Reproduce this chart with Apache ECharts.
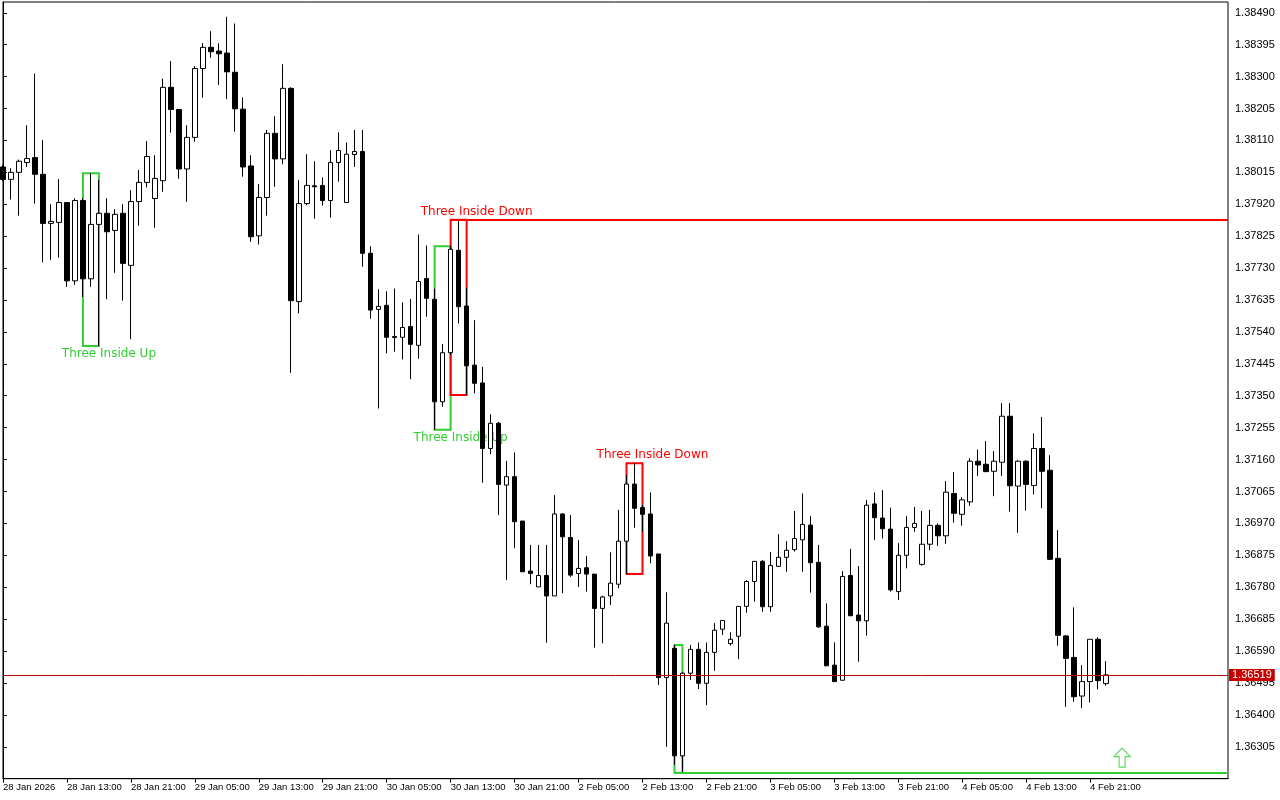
<!DOCTYPE html>
<html>
<head>
<meta charset="utf-8">
<style>
  html, body { margin: 0; padding: 0; background: #fff; }
  #chart { width: 1280px; height: 800px; }
</style>
<script src="https://cdn.jsdelivr.net/npm/echarts@6/dist/echarts.min.js"></script>
</head>
<body>
<div id="chart"></div>
<script>
// H1 bars, 28 Jan - 4 Feb 2026 (one label every 8 bars)
const xTickLabels = ['28 Jan 2026', '28 Jan 13:00', '28 Jan 21:00', '29 Jan 05:00', '29 Jan 13:00', '29 Jan 21:00',
  '30 Jan 05:00', '30 Jan 13:00', '30 Jan 21:00', '2 Feb 05:00', '2 Feb 13:00', '2 Feb 21:00',
  '3 Feb 05:00', '3 Feb 13:00', '3 Feb 21:00', '4 Feb 05:00', '4 Feb 13:00', '4 Feb 21:00'];

const yTicks = [1.36305, 1.36400, 1.36495, 1.36590, 1.36685, 1.36780, 1.36875, 1.36970, 1.37065, 1.37160,
  1.37255, 1.37350, 1.37445, 1.37540, 1.37635, 1.37730, 1.37825, 1.37920, 1.38015, 1.38110,
  1.38205, 1.38300, 1.38395, 1.38490];

const opens = [
  1.38031, 1.37994, 1.38015, 1.38044, 1.38059, 1.38009, 1.37863, 1.37866, 1.37925, 1.37692,
  1.37931, 1.37698, 1.37860, 1.37893, 1.37842, 1.37893, 1.37738, 1.37928, 1.37985, 1.37937,
  1.37990, 1.38268, 1.38202, 1.38025, 1.38119, 1.38324, 1.38387, 1.38376, 1.38370, 1.38313,
  1.38203, 1.38034, 1.37826, 1.37940, 1.38131, 1.38055, 1.38265, 1.37630, 1.37922, 1.37975,
  1.37976, 1.37931, 1.38044, 1.37925, 1.38068, 1.38077, 1.37774, 1.37607, 1.37619, 1.37526,
  1.37524, 1.37556, 1.37500, 1.37699, 1.37637, 1.37332, 1.37478, 1.37783, 1.37617, 1.37441,
  1.37388, 1.37193, 1.37268, 1.37084, 1.37109, 1.36977, 1.36828, 1.36781, 1.36815, 1.36754,
  1.36998, 1.36928, 1.36821, 1.36838, 1.36819, 1.36717, 1.36754, 1.36789, 1.36917, 1.37087,
  1.37017, 1.36998, 1.36879, 1.36511, 1.36598, 1.36278, 1.36524, 1.36595, 1.36494, 1.36586,
  1.36655, 1.36612, 1.36634, 1.36723, 1.36797, 1.36857, 1.36722, 1.36842, 1.36869, 1.36892,
  1.36921, 1.36965, 1.36854, 1.36664, 1.36548, 1.36503, 1.36815, 1.36697, 1.36680, 1.37028,
  1.36986, 1.36953, 1.36767, 1.36875, 1.36958, 1.36848, 1.36908, 1.36964, 1.36933, 1.37059,
  1.36997, 1.37034, 1.37155, 1.37146, 1.37125, 1.37152, 1.37289, 1.37081, 1.37155, 1.37083,
  1.37193, 1.37128, 1.36866, 1.36635, 1.36571, 1.36456, 1.36499, 1.36625, 1.36493
];
const closes = [
  1.37994, 1.38015, 1.38048, 1.38056, 1.38009, 1.37863, 1.37869, 1.37925, 1.37692, 1.37931,
  1.37698, 1.37860, 1.37893, 1.37838, 1.37890, 1.37744, 1.37928, 1.37985, 1.38062, 1.37997,
  1.38268, 1.38202, 1.38025, 1.38119, 1.38324, 1.38387, 1.38374, 1.38368, 1.38314, 1.38204,
  1.38031, 1.37823, 1.37940, 1.38131, 1.38055, 1.38265, 1.37633, 1.37922, 1.37976, 1.37972,
  1.37931, 1.38044, 1.38080, 1.38069, 1.38077, 1.37774, 1.37605, 1.37616, 1.37524, 1.37523,
  1.37553, 1.37503, 1.37690, 1.37640, 1.37332, 1.37478, 1.37786, 1.37615, 1.37439, 1.37387,
  1.37193, 1.37268, 1.37086, 1.37109, 1.36975, 1.36826, 1.36821, 1.36815, 1.36754, 1.36998,
  1.36930, 1.36816, 1.36836, 1.36819, 1.36717, 1.36751, 1.36792, 1.36917, 1.37087, 1.37015,
  1.36997, 1.36873, 1.36511, 1.36673, 1.36278, 1.36524, 1.36595, 1.36494, 1.36586, 1.36652,
  1.36681, 1.36625, 1.36723, 1.36797, 1.36857, 1.36722, 1.36845, 1.36869, 1.36890, 1.36925,
  1.36967, 1.36853, 1.36662, 1.36546, 1.36499, 1.36812, 1.36695, 1.36680, 1.37024, 1.36987,
  1.36954, 1.36772, 1.36875, 1.36958, 1.36970, 1.36908, 1.36964, 1.36933, 1.37063, 1.37000,
  1.37040, 1.37155, 1.37144, 1.37124, 1.37155, 1.37289, 1.37082, 1.37155, 1.37086, 1.37193,
  1.37125, 1.36863, 1.36637, 1.36568, 1.36454, 1.36499, 1.36625, 1.36502, 1.36519
];
const lows = [
  1.37989, 1.37934, 1.37886, 1.38031, 1.37922, 1.37747, 1.37754, 1.37761, 1.37674, 1.37680,
  1.37644, 1.37674, 1.37498, 1.37637, 1.37716, 1.37633, 1.37518, 1.37856, 1.37970, 1.37850,
  1.37957, 1.38133, 1.37996, 1.37927, 1.38106, 1.38237, 1.38356, 1.38275, 1.38233, 1.38136,
  1.38002, 1.37808, 1.37800, 1.37886, 1.37972, 1.38039, 1.37418, 1.37595, 1.37917, 1.37877,
  1.37916, 1.37880, 1.37987, 1.37925, 1.38031, 1.37734, 1.37579, 1.37312, 1.37476, 1.37481,
  1.37458, 1.37399, 1.37460, 1.37585, 1.37249, 1.37317, 1.37471, 1.37565, 1.37352, 1.37357,
  1.37091, 1.37176, 1.36995, 1.36801, 1.36896, 1.36826, 1.36789, 1.36781, 1.36615, 1.36754,
  1.36762, 1.36811, 1.36781, 1.36767, 1.36600, 1.36613, 1.36727, 1.36777, 1.36819, 1.36957,
  1.36945, 1.36851, 1.36489, 1.36305, 1.36251, 1.36228, 1.36504, 1.36477, 1.36429, 1.36531,
  1.36638, 1.36606, 1.36566, 1.36704, 1.36737, 1.36707, 1.36707, 1.36842, 1.36826, 1.36886,
  1.36826, 1.36764, 1.36659, 1.36546, 1.36499, 1.36503, 1.36695, 1.36558, 1.36636, 1.36920,
  1.36925, 1.36767, 1.36742, 1.36836, 1.36945, 1.36844, 1.36890, 1.36903, 1.36909, 1.36972,
  1.36963, 1.37022, 1.37111, 1.37124, 1.37051, 1.37111, 1.37005, 1.36942, 1.37008, 1.37056,
  1.37015, 1.36861, 1.36606, 1.36424, 1.36439, 1.36420, 1.36437, 1.36476, 1.36487
];
const highs = [
  1.38037, 1.38027, 1.38053, 1.38155, 1.38309, 1.38111, 1.37920, 1.37995, 1.37925, 1.37938,
  1.37939, 1.38012, 1.37992, 1.37938, 1.37905, 1.37920, 1.37962, 1.38022, 1.38108, 1.38066,
  1.38294, 1.38346, 1.38202, 1.38155, 1.38331, 1.38400, 1.38435, 1.38399, 1.38478, 1.38458,
  1.38238, 1.38066, 1.37980, 1.38141, 1.38182, 1.38337, 1.38268, 1.37992, 1.38069, 1.38048,
  1.38000, 1.38081, 1.38134, 1.38104, 1.38141, 1.38141, 1.37795, 1.37667, 1.37661, 1.37669,
  1.37628, 1.37638, 1.37830, 1.37797, 1.37669, 1.37504, 1.37795, 1.37874, 1.37672, 1.37575,
  1.37436, 1.37295, 1.37272, 1.37156, 1.37181, 1.36977, 1.36906, 1.36906, 1.36906, 1.37054,
  1.37000, 1.36995, 1.36920, 1.36873, 1.36819, 1.36755, 1.36884, 1.37010, 1.37114, 1.37149,
  1.37025, 1.37062, 1.36879, 1.36765, 1.36608, 1.36528, 1.36608, 1.36615, 1.36615, 1.36673,
  1.36681, 1.36646, 1.36723, 1.36801, 1.36857, 1.36861, 1.36885, 1.36938, 1.36917, 1.37007,
  1.37059, 1.36992, 1.36906, 1.36732, 1.36616, 1.36828, 1.36894, 1.36843, 1.37040, 1.37062,
  1.37069, 1.37017, 1.36911, 1.36992, 1.37019, 1.37007, 1.37010, 1.36970, 1.37096, 1.37123,
  1.37048, 1.37164, 1.37190, 1.37215, 1.37185, 1.37328, 1.37328, 1.37158, 1.37158, 1.37238,
  1.37287, 1.37173, 1.36950, 1.36638, 1.36720, 1.36548, 1.36625, 1.36631, 1.36560
];

// candle patterns found by the indicator (first bar, last bar)
const patternStart = [10, 54, 56, 78, 84];
const patternEnd = [12, 56, 58, 80, 85];
const patternNames = ['Three Inside Up', 'Three Inside Up', 'Three Inside Down', 'Three Inside Down', ''];
const patternBull = [true, true, false, false, true];
const patternExtended = [false, false, true, false, true];

const arrowIndex = [140];
const arrowPrice = [1.36273];
const lastPrice = 1.36519;

const GREEN = '#32CD32';
const RED = '#FF0000';
const X_MAX = 153.25;
const AXIS_FONT = 'Liberation Sans';

const candles = opens.map((o, i) => [i, o, closes[i], lows[i], highs[i]]);

const boxes = [];
const extLines = [];
patternStart.forEach((s, k) => {
    const e = patternEnd[k];
    const hi = Math.max(...highs.slice(s, e + 1));
    const lo = Math.min(...lows.slice(s, e + 1));
    const col = patternBull[k] ? GREEN : RED;
    boxes.push([
        {
            coord: [s, hi],
            name: patternNames[k],
            itemStyle: { color: 'rgba(0,0,0,0)', borderColor: col, borderWidth: 2 },
            label: {
                show: patternNames[k] !== '',
                position: patternBull[k] ? 'bottom' : 'top',
                distance: 1,
                offset: [18, 0],
                color: col,
                fontFamily: 'DejaVu Sans',
                fontSize: 12
            }
        },
        { coord: [e, lo] }
    ]);
    if (patternExtended[k]) {
        const level = patternBull[k] ? lo : hi;
        extLines.push([
            { coord: [s, level], lineStyle: { color: col, width: 2, type: 'solid' } },
            { coord: [X_MAX, level] }
        ]);
    }
});

// bid line across the whole chart, price tag on the axis
const bidLine = [
    {
        coord: [0, lastPrice],
        lineStyle: { color: '#C00000', width: 1, type: 'solid' },
        label: {
            show: true,
            position: 'end',
            distance: 1,
            formatter: lastPrice.toFixed(5),
            color: '#fff',
            backgroundColor: '#C80000',
            padding: [1, 3, 0, 3],
            fontFamily: AXIS_FONT,
            fontSize: 11
        }
    },
    { coord: [X_MAX, lastPrice] }
];

const chart = echarts.init(document.getElementById('chart'));
chart.setOption({
    animation: false,
    backgroundColor: '#ffffff',
    grid: {
        left: 2,
        right: 52,
        top: 2,
        bottom: 21.3,
        show: true,
        borderColor: '#000',
        borderWidth: 1
    },
    xAxis: {
        type: 'value',
        min: 0,
        max: X_MAX,
        interval: 8,
        splitLine: { show: false },
        axisLine: { show: true, lineStyle: { color: '#000', width: 1 } },
        axisTick: {
            show: true,
            length: 4,
            lineStyle: { color: '#000' },
            customValues: xTickLabels.map((_, i) => i * 8)
        },
        axisLabel: {
            customValues: xTickLabels.map((_, i) => i * 8),
            formatter: v => xTickLabels[Math.round(v / 8)] || '',
            align: 'left',
            margin: 4,
            color: '#000',
            fontFamily: AXIS_FONT,
            fontSize: 9.5
        }
    },
    yAxis: {
        type: 'value',
        position: 'right',
        min: 1.36210,
        max: 1.38522,
        interval: 0.00095,
        splitLine: { show: false },
        axisLine: { show: true, lineStyle: { color: '#000', width: 1 } },
        axisTick: {
            show: true,
            length: 4,
            lineStyle: { color: '#000' },
            customValues: yTicks
        },
        axisLabel: {
            customValues: yTicks,
            formatter: v => v.toFixed(5),
            margin: 7,
            color: '#000',
            fontFamily: AXIS_FONT,
            fontSize: 11
        }
    },
    series: [
        {
            type: 'candlestick',
            data: candles,
            barWidth: 5,
            clip: true,
            itemStyle: {
                color: '#ffffff',
                color0: '#000000',
                borderColor: '#000000',
                borderColor0: '#000000',
                borderWidth: 1
            },
            markArea: {
                silent: true,
                data: boxes
            },
            markLine: {
                silent: true,
                symbol: ['none', 'none'],
                label: { show: false },
                data: [...extLines, bidLine]
            }
        },
        {
            type: 'scatter',
            data: arrowIndex.map((x, i) => [x, arrowPrice[i]]),
            symbol: 'path://M8,0 L16,9 L11,9 L11,20 L5,20 L5,9 L0,9 Z',
            symbolSize: [16, 19],
            itemStyle: { color: '#ffffff', borderColor: GREEN, borderWidth: 1.2 },
            silent: true
        }
    ]
});
</script>
</body>
</html>
